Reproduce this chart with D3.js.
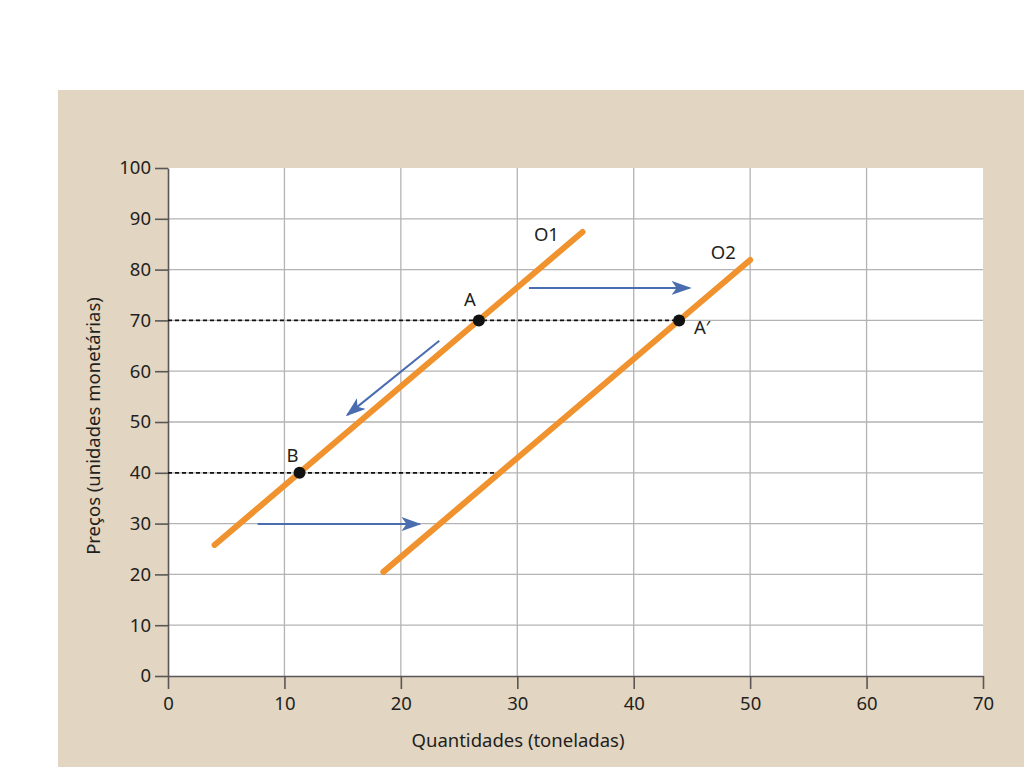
<!DOCTYPE html>
<html>
<head>
<meta charset="utf-8">
<script src="https://cdn.jsdelivr.net/npm/d3@7"></script>
<style>
  html, body { margin: 0; padding: 0; background: #ffffff; }
  svg { display: block; }
  text { font-family: "Noto Sans", Lato, sans-serif; fill: #231f20; }
</style>
</head>
<body>
<svg id="chart" width="1024" height="767"></svg>
<script>
// ---- data ----
const xTicks = [0, 10, 20, 30, 40, 50, 60, 70];
const yTicks = [0, 10, 20, 30, 40, 50, 60, 70, 80, 90, 100];
const supplyO1 = [{q: 4.0, p: 25.8}, {q: 35.6, p: 87.4}];
const supplyO2 = [{q: 18.5, p: 20.5}, {q: 50.0, p: 81.9}];
const points = [
  {name: "A",  q: 26.7, p: 70},
  {name: "A′", q: 43.9, p: 70},
  {name: "B",  q: 11.3, p: 40}
];
const dashedLines = [
  {p: 70, q0: 0, q1: 43.9},
  {p: 40, q0: 0, q1: 28.1}
];
const arrows = [
  {q0: 31.0, p0: 76.4, q1: 44.8, p1: 76.4},
  {q0: 23.3, p0: 66.0, q1: 15.4, p1: 51.4},
  {q0: 7.7,  p0: 29.9, q1: 21.6, p1: 29.9}
];
const curveLabels = [
  {name: "O1", q: 32.5, p: 85.6},
  {name: "O2", q: 47.7, p: 82.1}
];
const pointLabelOffsets = {"A": [-9, -14], "A′": [23, 14], "B": [-7, -11]};

// ---- layout ----
const svg = d3.select("#chart");
const FONT = "'Noto Sans', Lato, sans-serif";
const FS = 18.5;

svg.append("rect").attr("x", 58).attr("y", 90).attr("width", 1024 - 58).attr("height", 767 - 90)
  .attr("fill", "#e2d5c1");

const x = d3.scaleLinear().domain([0, 70]).range([168, 983]);
const y = d3.scaleLinear().domain([0, 100]).range([676, 168]);

svg.append("rect").attr("x", x(0)).attr("y", y(100))
  .attr("width", x(70) - x(0)).attr("height", y(0) - y(100)).attr("fill", "#ffffff");

// grid
const grid = svg.append("g");
grid.selectAll("line.gx").data(xTicks.filter(d => d > 0 && d < 70)).join("line")
  .attr("x1", d => x(d)).attr("x2", d => x(d)).attr("y1", y(0)).attr("y2", y(100))
  .attr("stroke", "#b3b3b3").attr("stroke-width", 1.3);
grid.selectAll("line.gy").data(yTicks.filter(d => d > 0 && d < 100)).join("line")
  .attr("x1", x(0)).attr("x2", x(70)).attr("y1", d => y(d)).attr("y2", d => y(d))
  .attr("stroke", "#b3b3b3").attr("stroke-width", 1.3);

// axes
const xAxis = svg.append("g").attr("transform", `translate(0,${y(0)})`)
  .call(d3.axisBottom(x).tickValues(xTicks).tickSize(13).tickPadding(5).tickSizeOuter(0));
const yAxis = svg.append("g").attr("transform", `translate(${x(0)},0)`)
  .call(d3.axisLeft(y).tickValues(yTicks).tickSize(13).tickPadding(4).tickSizeOuter(0));
[xAxis, yAxis].forEach(a => {
  a.select(".domain").attr("stroke", "#5a5656").attr("stroke-width", 1.6);
  a.selectAll(".tick line").attr("stroke", "#5a5656").attr("stroke-width", 1.6);
  a.selectAll(".tick text").attr("font-size", FS).attr("font-family", FONT)
    .attr("fill", "#231f20");
});
xAxis.selectAll(".tick text").attr("dy", "0.85em");

// axis titles
svg.append("text").attr("x", 518).attr("y", 747)
  .attr("text-anchor", "middle").attr("font-size", FS).text("Quantidades (toneladas)");
svg.append("text").attr("transform", "translate(100,426) rotate(-90)")
  .attr("text-anchor", "middle").attr("font-size", FS).text("Preços (unidades monetárias)");

// dashed lines
svg.selectAll("line.dash").data(dashedLines).join("line")
  .attr("x1", d => x(d.q0)).attr("x2", d => x(d.q1))
  .attr("y1", d => y(d.p)).attr("y2", d => y(d.p))
  .attr("stroke", "#111").attr("stroke-width", 1.7).attr("stroke-dasharray", "4,3");

// supply curves
const line = d3.line().x(d => x(d.q)).y(d => y(d.p));
[supplyO1, supplyO2].forEach(s => {
  svg.append("path").attr("d", line(s)).attr("fill", "none")
    .attr("stroke", "#f0922e").attr("stroke-width", 6).attr("stroke-linecap", "round");
});

// arrows
const defs = svg.append("defs");
defs.append("marker").attr("id", "ah").attr("viewBox", "0 0 20 14")
  .attr("refX", 18).attr("refY", 7).attr("markerWidth", 20).attr("markerHeight", 14)
  .attr("markerUnits", "userSpaceOnUse").attr("orient", "auto")
  .append("path").attr("d", "M0,0 L20,7 L0,14 L5,7 Z").attr("fill", "#4a6db0");
svg.selectAll("line.arrow").data(arrows).join("line")
  .attr("x1", d => x(d.q0)).attr("y1", d => y(d.p0))
  .attr("x2", d => x(d.q1)).attr("y2", d => y(d.p1))
  .attr("stroke", "#4a6db0").attr("stroke-width", 2).attr("marker-end", "url(#ah)");

// points
svg.selectAll("circle.pt").data(points).join("circle")
  .attr("cx", d => x(d.q)).attr("cy", d => y(d.p)).attr("r", 6).attr("fill", "#111");
svg.selectAll("text.pl").data(points).join("text")
  .attr("x", d => x(d.q) + pointLabelOffsets[d.name][0])
  .attr("y", d => y(d.p) + pointLabelOffsets[d.name][1])
  .attr("text-anchor", "middle").attr("font-size", FS).text(d => d.name);

// curve labels
svg.selectAll("text.cl").data(curveLabels).join("text")
  .attr("x", d => x(d.q)).attr("y", d => y(d.p))
  .attr("text-anchor", "middle").attr("font-size", FS).text(d => d.name);
</script>
</body>
</html>
